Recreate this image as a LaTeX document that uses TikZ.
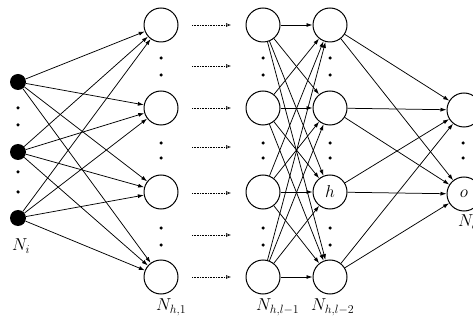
\documentclass[tikz,border=0pt]{standalone}
\usetikzlibrary{arrows.meta}
\begin{document}
\begin{tikzpicture}[x=1pt,y=-1pt,
  neuron/.style={circle,draw,line width=1pt,minimum size=34pt,inner sep=0pt,font=\fontsize{17}{20}\selectfont},
  inp/.style={circle,fill=black,minimum size=16pt,inner sep=0pt},
  conn/.style={line width=0.75pt,-{Latex[length=6pt,width=4pt]}},
  dotarrow/.style={densely dotted,line width=0.6pt,-{Latex[length=5pt,width=4pt,open]}},
  lab/.style={anchor=west,inner sep=0pt,font=\fontsize{17}{20}\selectfont},
  vdot/.style={circle,fill=black,minimum size=3.5pt,inner sep=0pt}]
\useasboundingbox (0,0) rectangle (473,320);
% inputs
\node[inp] (i1) at (18,82) {};
\node[inp] (i2) at (18,152) {};
\node[inp] (i3) at (18,218) {};
% hidden layers
\foreach \k/\y in {1/25,2/108,3/192,4/277}{
  \node[neuron] (a\k) at (161,\y) {};
  \node[neuron] (b\k) at (263,\y) {};
}
\node[neuron] (c1) at (330,25) {};
\node[neuron] (c2) at (330,108) {};
\node[neuron] (c3) at (330,192) {$h$};
\node[neuron] (c4) at (330,277) {};
\node[neuron] (o1) at (464,110) {};
\node[neuron] (o2) at (464,194) {$o$};
% dots
\foreach \y in {108,125,172,192}{\node[vdot] at (18,\y) {};}
\foreach \y in {58,75,143,158,228,245}{
  \node[vdot] at (161,\y) {};
  \node[vdot] at (263,\y) {};
  \node[vdot] at (330,\y) {};
}
\foreach \y in {143,158}{\node[vdot] at (463,\y) {};}
% dotted arrows
\foreach \y [count=\n] in {25,66,108,147,193,235,277}{
  \coordinate (ds\n) at (192,\y);
  \coordinate (de\n) at (231,\y);
  \draw[dotarrow] (ds\n) -- (de\n);
}
% connections
\foreach \s in {1,2,3}{\foreach \t in {1,2,3,4}{\draw[conn] (i\s) -- (a\t);}}
\foreach \s in {1,2,3,4}{\foreach \t in {1,2,3,4}{\draw[conn] (b\s) -- (c\t);}}
\foreach \s in {1,2,3,4}{\foreach \t in {1,2}{\draw[conn] (c\s) -- (o\t);}}
% labels
\node[lab] (li) at (12,246) {$N_i$};
\node[lab] (l1) at (156,307) {$N_{h,1}$};
\node[lab] (l2) at (256,307) {$N_{h,l-1}$};
\node[lab] (l3) at (311,307) {$N_{h,l-2}$};
\node[lab] (lo) at (458,222) {$N_o$};
\end{tikzpicture}
\end{document}
